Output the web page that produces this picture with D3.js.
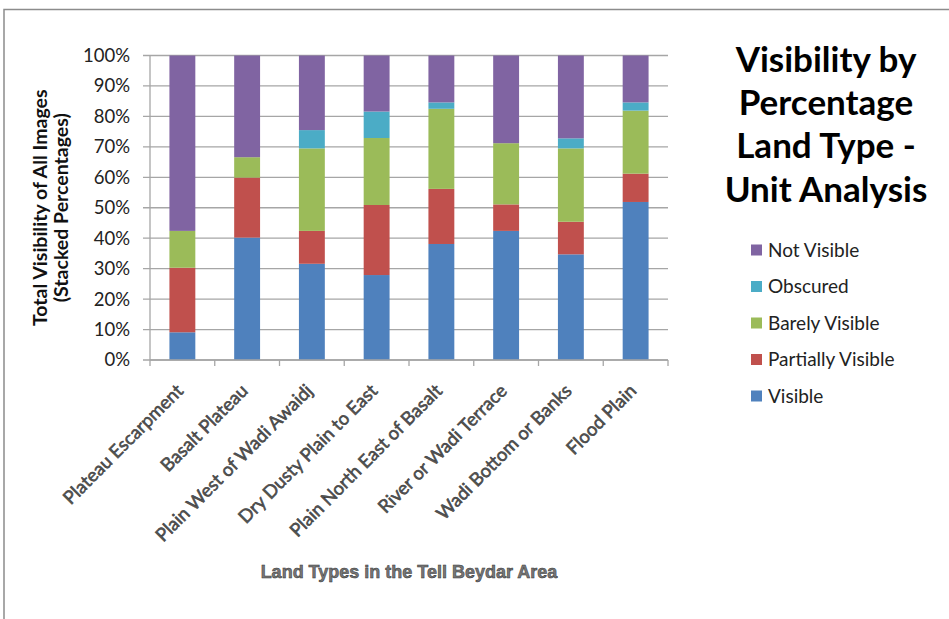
<!DOCTYPE html>
<html>
<head>
<meta charset="utf-8">
<script src="https://cdn.jsdelivr.net/npm/d3@7"></script>
<style>
  body { margin: 0; background: #fff; }
  svg { display: block; font-family: Lato, "Open Sans", sans-serif; }
</style>
</head>
<body>
<div id="chart"></div>
<script>
// land types along the x axis
const landTypes = [
    "Plateau Escarpment", "Basalt Plateau", "Plain West of Wadi Awaidj",
    "Dry Dusty Plain to East", "Plain North East of Basalt",
    "River or Wadi Terrace", "Wadi Bottom or Banks", "Flood Plain"
];

// stacked series, bottom to top (percent of images)
const seriesNames = ["Visible", "Partially Visible", "Barely Visible", "Obscured", "Not Visible"];
const visible          = [9.1, 40.2, 31.6, 27.9, 38.1, 42.4, 34.7, 51.9];
const partiallyVisible = [21.2, 19.7, 10.8, 23.0, 18.1, 8.7, 10.7, 9.3];
const barelyVisible    = [12.1, 6.7, 27.1, 22.0, 26.3, 20.1, 24.1, 20.7];
const obscured         = [0, 0, 6.0, 8.7, 2.1, 0, 3.3, 2.7];
const notVisible       = [57.6, 33.4, 24.5, 18.4, 15.4, 28.8, 27.2, 15.4];

const yTicks = [0, 10, 20, 30, 40, 50, 60, 70, 80, 90, 100];
const colors = ["#4F81BD", "#C0504D", "#9BBB59", "#4BACC6", "#8064A2"];

const width = 949, height = 619;
const margin = {top: 55.5, left: 150, right: 281, bottom: 259};

const svg = d3.select("#chart").append("svg")
    .attr("width", width)
    .attr("height", height);

// chart border (cut off at right / bottom like the source)
svg.append("rect")
    .attr("x", 4).attr("y", 9.5)
    .attr("width", width + 10).attr("height", height - 5)
    .attr("fill", "none")
    .attr("stroke", "#8c8c8c")
    .attr("stroke-width", 1.5);

const rows = landTypes.map((t, i) => ({
    type: t,
    "Visible": visible[i],
    "Partially Visible": partiallyVisible[i],
    "Barely Visible": barelyVisible[i],
    "Obscured": obscured[i],
    "Not Visible": notVisible[i]
}));

const stacked = d3.stack().keys(seriesNames)(rows);

const x = d3.scaleBand()
    .domain(landTypes)
    .range([margin.left, width - margin.right])
    .paddingInner(0.6)
    .paddingOuter(0.3);

const y = d3.scaleLinear()
    .domain([0, 100])
    .range([height - margin.bottom, margin.top]);

const color = d3.scaleOrdinal().domain(seriesNames).range(colors);

// gridlines
svg.append("g")
    .selectAll("line")
    .data(yTicks)
    .join("line")
    .attr("x1", margin.left - 7)
    .attr("x2", width - margin.right)
    .attr("y1", d => y(d))
    .attr("y2", d => y(d))
    .attr("stroke", "#a6a6a6")
    .attr("stroke-width", 1.3);

// y axis line
svg.append("line")
    .attr("x1", margin.left).attr("x2", margin.left)
    .attr("y1", y(0)).attr("y2", y(100))
    .attr("stroke", "#a6a6a6")
    .attr("stroke-width", 1.3);

// y tick labels
svg.append("g")
    .selectAll("text")
    .data(yTicks)
    .join("text")
    .attr("x", 130)
    .attr("y", d => y(d))
    .attr("dy", "0.35em")
    .attr("text-anchor", "end")
    .attr("font-size", 18.5)
    .attr("fill", "#222")
    .text(d => d + "%");

// bars
svg.append("g")
    .selectAll("g")
    .data(stacked)
    .join("g")
    .attr("fill", d => color(d.key))
    .selectAll("rect")
    .data(d => d)
    .join("rect")
    .attr("x", d => x(d.data.type))
    .attr("width", x.bandwidth())
    .attr("y", d => y(d[1]))
    .attr("height", d => y(d[0]) - y(d[1]));

// x axis tick marks at category boundaries
const bounds = d3.range(landTypes.length + 1).map(i => margin.left + i * (width - margin.left - margin.right) / landTypes.length);
svg.append("g")
    .selectAll("line")
    .data(bounds)
    .join("line")
    .attr("x1", d => d).attr("x2", d => d)
    .attr("y1", y(0)).attr("y2", y(0) + 6)
    .attr("stroke", "#a6a6a6")
    .attr("stroke-width", 1.3);
svg.append("line")
    .attr("x1", margin.left).attr("x2", width - margin.right)
    .attr("y1", y(0)).attr("y2", y(0))
    .attr("stroke", "#a6a6a6")
    .attr("stroke-width", 1.3);

// x labels, rotated
svg.append("g")
    .selectAll("text")
    .data(landTypes)
    .join("text")
    .attr("transform", d => `translate(${x(d) + x.bandwidth() / 2 + 2},${y(0) + 32}) rotate(-45)`)
    .attr("text-anchor", "end")
    .attr("font-size", 18.5)
    .attr("fill", "#555")
    .attr("stroke", "#333")
    .attr("stroke-width", 0.5)
    .text(d => d);

// axis titles
svg.append("text")
    .attr("x", (margin.left + width - margin.right) / 2)
    .attr("y", 578)
    .attr("text-anchor", "middle")
    .attr("font-family", "'Liberation Sans', Arial, sans-serif")
    .attr("font-size", 18)
    .attr("font-weight", "bold")
    .attr("fill", "#777")
    .attr("stroke", "#333")
    .attr("stroke-width", 0.5)
    .text("Land Types in the Tell Beydar Area");

const yTitle = svg.append("text")
    .attr("transform", `translate(0,${(y(0) + y(100)) / 2}) rotate(-90)`)
    .attr("text-anchor", "middle")
    .attr("font-size", 19.5)
    .attr("font-weight", "bold")
    .attr("fill", "#111");
yTitle.append("tspan").attr("x", 0).attr("y", 47).text("Total Visibility of All Images");
yTitle.append("tspan").attr("x", 0).attr("y", 68).text("(Stacked Percentages)");

// chart title
const titleLines = ["Visibility by", "Percentage", "Land Type -", "Unit Analysis"];
svg.append("g")
    .selectAll("text")
    .data(titleLines)
    .join("text")
    .attr("x", 826)
    .attr("y", (d, i) => 72 + i * 43.2)
    .attr("text-anchor", "middle")
    .attr("font-size", 35)
    .attr("font-weight", "bold")
    .attr("fill", "#000")
    .text(d => d);

// legend, top to bottom reversed order of stack
const legendItems = seriesNames.slice().reverse();
const legend = svg.append("g")
    .selectAll("g")
    .data(legendItems)
    .join("g")
    .attr("transform", (d, i) => `translate(751,${250 + i * 36.5})`);
legend.append("rect")
    .attr("x", 0).attr("y", -5.5)
    .attr("width", 11).attr("height", 11)
    .attr("fill", d => color(d));
legend.append("text")
    .attr("x", 17)
    .attr("dy", "0.35em")
    .attr("font-size", 19)
    .attr("fill", "#222")
    .text(d => d);
</script>
</body>
</html>
